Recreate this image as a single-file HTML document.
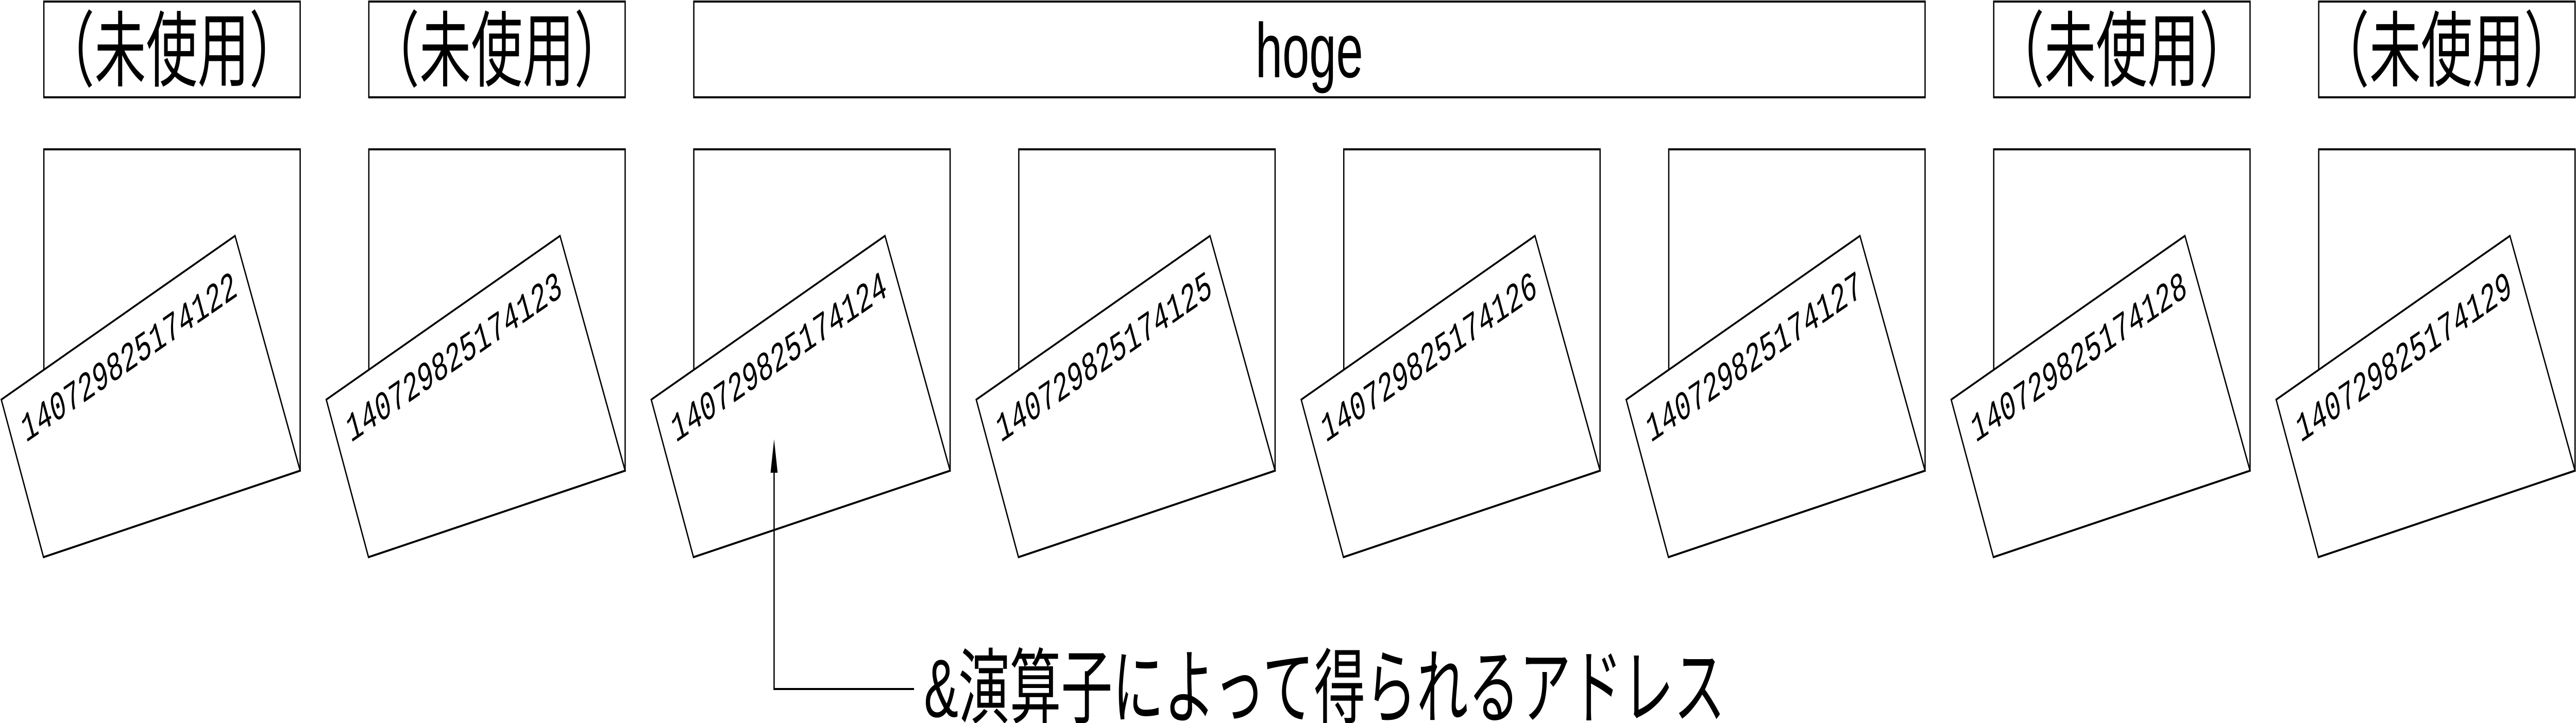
<!DOCTYPE html>
<html><head><meta charset="utf-8"><style>
html,body{margin:0;padding:0;background:#fff;width:100vw;height:100vh;overflow:hidden;}
svg{display:block;width:100vw;height:100vh;}
</style></head><body>
<svg viewBox="0 0 7990 1404" preserveAspectRatio="none" xmlns="http://www.w3.org/2000/svg">
<defs>
<g id="cell">
<polyline points="136,800 136,290 931,290 931,914" fill="none" stroke="#000" stroke-width="4"/>
<polygon points="729,458 931,914 135,1082 4,776" fill="#fff" stroke="#000" stroke-width="4" stroke-linejoin="miter"/>
</g>
</defs>
<g font-family="'Liberation Sans','Noto Sans CJK JP',sans-serif" font-size="160" text-anchor="middle">
<rect x="136" y="3" width="795" height="186" fill="#fff" stroke="#000" stroke-width="4"/>
<text x="533" y="155">（未使用）</text>
<rect x="1144" y="3" width="795" height="186" fill="#fff" stroke="#000" stroke-width="4"/>
<text x="1541" y="155">（未使用）</text>
<rect x="2152" y="3" width="3819" height="186" fill="#fff" stroke="#000" stroke-width="4"/>
<text x="4061" y="150" font-size="150">hoge</text>
<rect x="6184" y="3" width="795" height="186" fill="#fff" stroke="#000" stroke-width="4"/>
<text x="6581" y="155">（未使用）</text>
<rect x="7192" y="3" width="795" height="186" fill="#fff" stroke="#000" stroke-width="4"/>
<text x="7589" y="155">（未使用）</text>
</g>
<g font-family="'Liberation Mono',monospace" font-size="80">
<g><use href="#cell"/><text transform="translate(80,860) rotate(-23.5)">140729825174122</text></g>
<g transform="translate(1008,0)"><use href="#cell"/><text transform="translate(80,860) rotate(-23.5)">140729825174123</text></g>
<g transform="translate(2016,0)"><use href="#cell"/><text transform="translate(80,860) rotate(-23.5)">140729825174124</text></g>
<g transform="translate(3024,0)"><use href="#cell"/><text transform="translate(80,860) rotate(-23.5)">140729825174125</text></g>
<g transform="translate(4032,0)"><use href="#cell"/><text transform="translate(80,860) rotate(-23.5)">140729825174126</text></g>
<g transform="translate(5040,0)"><use href="#cell"/><text transform="translate(80,860) rotate(-23.5)">140729825174127</text></g>
<g transform="translate(6048,0)"><use href="#cell"/><text transform="translate(80,860) rotate(-23.5)">140729825174128</text></g>
<g transform="translate(7056,0)"><use href="#cell"/><text transform="translate(80,860) rotate(-23.5)">140729825174129</text></g>
</g>
<polyline points="2401,900 2401,1338 2835,1338" fill="none" stroke="#000" stroke-width="4"/>
<polygon points="2401,853 2390,918 2412,918" fill="#000"/>
<text x="2866" y="1392" font-family="'Liberation Sans','Noto Sans CJK JP',sans-serif" font-size="160" textLength="2485" lengthAdjust="spacingAndGlyphs">&amp;演算子によって得られるアドレス</text>
</svg>
</body></html>
